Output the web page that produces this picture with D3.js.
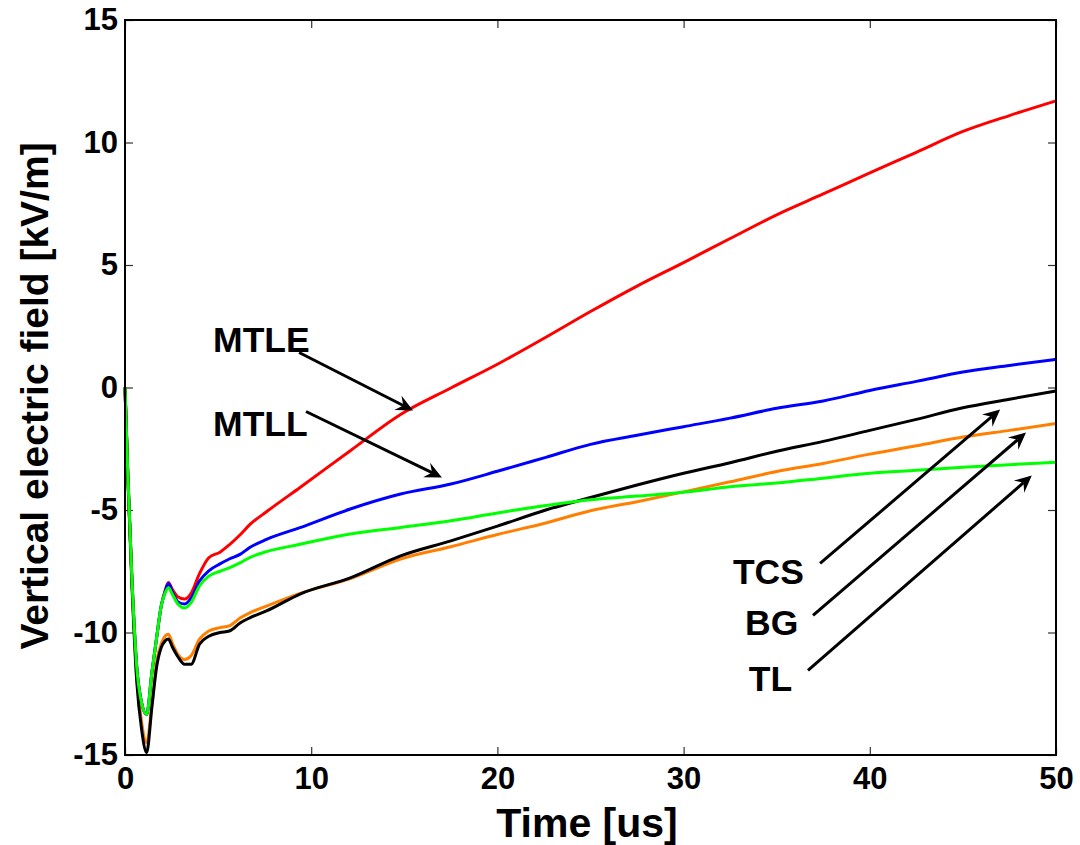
<!DOCTYPE html>
<html>
<head>
<meta charset="utf-8">
<script src="https://cdn.jsdelivr.net/npm/d3@7"></script>
<style>
  html, body { margin: 0; padding: 0; background: #fff; }
  svg { display: block; font-family: "Liberation Sans", Arial, sans-serif; font-weight: bold; }
</style>
</head>
<body>
<svg id="chart" width="1080" height="845"></svg>
<script>
// ---- data (time in us, field in kV/m) ----
const time = [0, 0.15, 0.36, 0.63, 0.9, 1.16, 1.45, 1.7, 1.95, 2.15, 2.33, 2.55, 2.85, 3.2, 3.55, 4.0, 4.5, 5.1, 5.6, 6.2, 6.7, 7.6, 9.4, 12.1, 14.8, 17.5, 20, 22.6, 25, 27.5, 30, 32.5, 35, 37.5, 40, 42.5, 45, 47.5, 50];
const mtle = [0, -3.5, -7.6, -11.4, -12.9, -13.35, -11.6, -10.2, -8.9, -8.3, -7.96, -8.25, -8.55, -8.63, -8.4, -7.6, -6.95, -6.72, -6.42, -6.0, -5.6, -5.07, -4.08, -2.58, -1.1, -0.02, 0.95, 2.05, 3.1, 4.14, 5.1, 6.08, 7.05, 7.9, 8.76, 9.6, 10.45, 11.1, 11.7];
const mtll = [0, -3.5, -7.6, -11.4, -12.9, -13.35, -11.6, -10.2, -8.9, -8.35, -8.0, -8.35, -8.75, -8.84, -8.6, -7.9, -7.48, -7.2, -7.0, -6.8, -6.53, -6.2, -5.72, -4.96, -4.35, -3.94, -3.42, -2.85, -2.32, -1.95, -1.6, -1.25, -0.85, -0.55, -0.12, 0.25, 0.63, 0.9, 1.15];
const tl   = [0, -3.5, -7.6, -11.4, -12.9, -13.35, -11.6, -10.2, -8.9, -8.4, -8.17, -8.45, -8.85, -9.0, -8.78, -8.1, -7.7, -7.5, -7.36, -7.15, -6.94, -6.7, -6.4, -5.98, -5.71, -5.44, -5.12, -4.82, -4.58, -4.43, -4.28, -4.05, -3.9, -3.7, -3.5, -3.38, -3.26, -3.15, -3.05];
const tcs  = [0, -3.6, -7.8, -12.0, -14.0, -14.9, -13.0, -11.4, -10.6, -10.35, -10.27, -10.6, -11.0, -11.3, -11.3, -10.48, -10.15, -10.0, -9.94, -9.6, -9.4, -9.12, -8.43, -7.77, -6.87, -6.26, -5.66, -5.0, -4.49, -3.98, -3.5, -3.07, -2.6, -2.2, -1.75, -1.3, -0.83, -0.48, -0.14];
const bg   = [0, -3.6, -7.7, -11.8, -13.7, -14.5, -12.9, -11.2, -10.45, -10.15, -10.07, -10.45, -10.9, -11.1, -10.95, -10.27, -9.94, -9.8, -9.73, -9.4, -9.2, -8.92, -8.4, -7.8, -7.0, -6.5, -6.0, -5.53, -5.03, -4.66, -4.26, -3.85, -3.43, -3.1, -2.72, -2.38, -2.02, -1.75, -1.47];

const seriesNames  = ["MTLE", "MTLL", "BG", "TCS", "TL"];
const seriesValues = [mtle, mtll, bg, tcs, tl];
const seriesColors = ["#ff0000", "#0000ff", "#ff8000", "#000000", "#00ff00"];

const xTicks = [0, 10, 20, 30, 40, 50];
const yTicks = [-15, -10, -5, 0, 5, 10, 15];
const xLabel = "Time [us]";
const yLabel = "Vertical electric field [kV/m]";

// annotations: label position and arrow (data coordinates)
const annLabels = ["MTLE", "MTLL", "TCS", "BG", "TL"];
const annText   = [[4.73, 1.43], [4.73, -1.96], [32.65, -8.0], [33.3, -10.12], [33.5, -12.37]];
const annFrom   = [[9.35, 1.43], [9.72, -0.98], [37.33, -7.18], [36.95, -9.3], [36.68, -11.55]];
const annTo     = [[15.47, -0.94], [17.02, -3.67], [47.0, -0.9], [48.39, -1.84], [48.7, -3.59]];

// ---- layout ----
const W = 1080, H = 845;
const m = { left: 125, right: 24, top: 20, bottom: 90 };
const svg = d3.select("#chart");
const x = d3.scaleLinear().domain([0, 50]).range([m.left, W - m.right]);
const y = d3.scaleLinear().domain([-15, 15]).range([H - m.bottom, m.top]);

// axes with inward ticks (MATLAB style)
const tickLen = 8;
const fmt = d => String(d);
const axB = svg.append("g").attr("transform", `translate(0,${H - m.bottom})`)
  .call(d3.axisBottom(x).tickValues(xTicks).tickSizeInner(-tickLen).tickSizeOuter(0).tickPadding(12).tickFormat(fmt));
const axT = svg.append("g").attr("transform", `translate(0,${m.top})`)
  .call(d3.axisTop(x).tickValues(xTicks).tickSizeInner(-tickLen).tickSizeOuter(0).tickFormat(""));
const axL = svg.append("g").attr("transform", `translate(${m.left},0)`)
  .call(d3.axisLeft(y).tickValues(yTicks).tickSizeInner(-tickLen).tickSizeOuter(0).tickPadding(7).tickFormat(fmt));
const axR = svg.append("g").attr("transform", `translate(${W - m.right},0)`)
  .call(d3.axisRight(y).tickValues(yTicks).tickSizeInner(-tickLen).tickSizeOuter(0).tickFormat(""));

[axB, axT, axL, axR].forEach(a => {
  a.select(".domain").remove();
  a.selectAll(".tick line").attr("stroke", "#333").attr("stroke-width", 1.2);
  a.selectAll(".tick text").attr("fill", "#000").style("font-size", "31px").style("font-weight", "bold")
    .style("font-family", "'Liberation Sans', Arial, sans-serif");
});

// data lines
const line = d3.line().x((d, i) => x(time[i])).y(d => y(d)).curve(d3.curveMonotoneX);
seriesValues.forEach((vals, k) => {
  svg.append("path").datum(vals)
    .attr("d", line)
    .attr("fill", "none")
    .attr("stroke", seriesColors[k])
    .attr("stroke-width", 3)
    .attr("stroke-linejoin", "round");
});

// box
svg.append("rect")
  .attr("x", m.left).attr("y", m.top)
  .attr("width", W - m.left - m.right).attr("height", H - m.top - m.bottom)
  .attr("fill", "none").attr("stroke", "#000").attr("stroke-width", 2);

// annotations
annLabels.forEach((lab, i) => {
  svg.append("text")
    .attr("x", x(annText[i][0])).attr("y", y(annText[i][1]))
    .attr("text-anchor", "start")
    .style("font-size", "35.5px").style("font-weight", "bold")
    .text(lab);
  const x1 = x(annFrom[i][0]), y1 = y(annFrom[i][1]);
  const x2 = x(annTo[i][0]),   y2 = y(annTo[i][1]);
  const ang = Math.atan2(y2 - y1, x2 - x1);
  const hl = 17, hw = 8, notch = 11;
  const ca = Math.cos(ang), sa = Math.sin(ang);
  const bx = x2 - hl * ca, by = y2 - hl * sa;
  const nx = x2 - notch * ca, ny = y2 - notch * sa;
  svg.append("line")
    .attr("x1", x1).attr("y1", y1).attr("x2", nx).attr("y2", ny)
    .attr("stroke", "#000").attr("stroke-width", 3);
  const head = `M${x2},${y2} L${bx - hw * sa},${by + hw * ca} L${nx},${ny} L${bx + hw * sa},${by - hw * ca} Z`;
  svg.append("path").attr("d", head).attr("fill", "#000");
});

// axis labels
svg.append("text")
  .attr("x", 587).attr("y", 837)
  .attr("text-anchor", "middle")
  .style("font-size", "41px").style("font-weight", "bold")
  .text(xLabel);
svg.append("text")
  .attr("transform", `translate(48,396) rotate(-90)`)
  .attr("text-anchor", "middle")
  .style("font-size", "39px").style("font-weight", "bold")
  .text(yLabel);
</script>
</body>
</html>
